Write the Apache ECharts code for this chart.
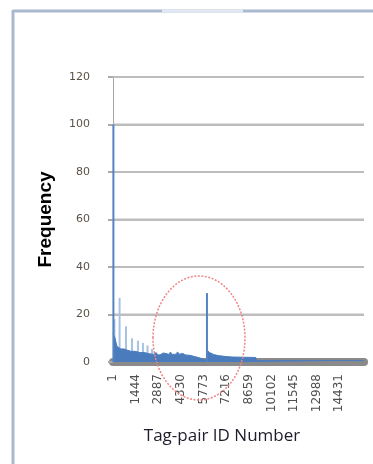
<!DOCTYPE html>
<html>
<head>
<meta charset="utf-8">
<script src="https://cdn.jsdelivr.net/npm/echarts@6/dist/echarts.min.js"></script>
<style>
  html, body { margin: 0; padding: 0; background: #fff; }
  #chart { width: 373px; height: 464px; }
</style>
</head>
<body>
<div id="chart"></div>
<script>
// dense low-frequency profile (dark fill)
const baseIds = [0, 130, 200, 260, 380, 500, 700, 900, 1150, 1400, 1700, 2000, 2300, 2600, 2750, 2850, 3000, 3200, 3300, 3600, 3650, 3800, 4050, 4100, 4250, 4450, 4600, 4900, 5200, 5500, 5750, 5850, 5950, 6000, 6150, 6400, 6700, 7200, 7600, 8400, 9100, 9150, 16000];
const baseFreq = [12, 10, 8, 6.5, 6, 5.5, 5.5, 5, 4.5, 4.5, 4, 4, 3.5, 3.2, 4, 3, 3, 3.8, 3, 3.2, 4.2, 3.2, 3.3, 4.2, 3.3, 3.6, 3, 2.8, 2.3, 1.8, 1.2, 0.6, 0.6, 5, 4, 3.2, 2.7, 2.3, 2.1, 2, 1.9, 0.6, 0.6];

// thin lighter peaks
const lightPeakIds = [90, 420, 830, 1210, 1590, 1910, 2200, 2490];
const lightPeakFreq = [18, 27, 15, 10, 9, 8, 7, 5.5];

// strong peaks
const darkPeakIds = [25, 5990];
const darkPeakFreq = [100, 29];

const xMin = 0;
const xMax = 16000;
const xTickStep = 1443;
const xLastLabel = 14430;
const yGridValues = [20, 40, 60, 80, 100, 120];

const chart = echarts.init(document.getElementById('chart'));

const zip = (a, b) => a.map((v, i) => [v, b[i]]);

// horizontal gridlines as plain series spanning the x range
const gridSeries = yGridValues.map(v => ({
  type: 'line',
  silent: true,
  symbol: 'none',
  lineStyle: { color: '#bdbdbd', width: 2 },
  data: [[xMin, v], [xMax, v]],
  z: 1,
}));

const option = {
  backgroundColor: '#fff',
  animation: false,
  grid: { left: 113, right: 9, top: 77, bottom: 102 },
  xAxis: {
    type: 'value',
    min: xMin,
    max: xMax,
    interval: xTickStep,
    offset: 4,
    name: 'Tag-pair ID Number',
    nameLocation: 'middle',
    nameGap: 62,
    nameTextStyle: {
      fontFamily: 'Open Sans',
      fontSize: 17,
      color: '#1d1d2b',
      padding: [0, 33, 0, 0],
    },
    axisLine: { show: true, lineStyle: { color: '#8a8a8a', width: 8 } },
    axisTick: { show: false },
    splitLine: { show: false },
    axisLabel: {
      rotate: 90,
      margin: 8,
      fontFamily: 'DejaVu Sans',
      fontSize: 12,
      color: '#4f4f4f',
      formatter: v => (v > xLastLabel ? '' : String(v + 1)),
    },
  },
  yAxis: {
    type: 'value',
    min: 0,
    max: 120,
    interval: 20,
    name: 'Frequency',
    nameLocation: 'middle',
    nameGap: 58,
    nameTextStyle: {
      fontFamily: 'Liberation Sans',
      fontSize: 19,
      fontWeight: 'bold',
      color: '#000',
    },
    axisLine: { show: true, lineStyle: { color: '#a6a6a6', width: 1 } },
    axisTick: { show: true, length: 5, lineStyle: { color: '#aaaaaa', width: 2 } },
    splitLine: { show: true, lineStyle: { color: '#bdbdbd', width: 2 } },
    axisLabel: {
      margin: 23,
      fontFamily: 'DejaVu Sans',
      fontSize: 11,
      color: '#5a5146',
    },
  },
  series: [
    ...gridSeries,
    {
      name: 'peaks-light',
      type: 'bar',
      barWidth: 2,
      itemStyle: { color: '#a9c2e4' },
      data: zip(lightPeakIds, lightPeakFreq),
      z: 2,
    },
    {
      name: 'base',
      type: 'line',
      showSymbol: false,
      symbol: 'none',
      lineStyle: { color: '#4a7cbd', width: 1 },
      areaStyle: { color: '#4a7cbd', opacity: 1 },
      data: zip(baseIds, baseFreq),
      z: 3,
    },
    {
      name: 'peaks-dark',
      type: 'bar',
      barWidth: 2,
      barGap: '-100%',
      itemStyle: { color: '#5583c2' },
      data: zip(darkPeakIds, darkPeakFreq),
      z: 4,
    },
  ],
  graphic: [
    {
      type: 'line',
      shape: { x1: 13, y1: 11, x2: 373, y2: 11 },
      style: { stroke: '#a9b9d0', lineWidth: 3 },
    },
    {
      type: 'line',
      shape: { x1: 162, y1: 11, x2: 243, y2: 11 },
      style: { stroke: '#e3e9f2', lineWidth: 3 },
    },
    {
      type: 'line',
      shape: { x1: 13, y1: 10, x2: 13, y2: 464 },
      style: { stroke: '#a9b9d0', lineWidth: 3 },
    },
    {
      type: 'ellipse',
      shape: { cx: 199, cy: 338, rx: 46, ry: 62 },
      style: { fill: 'none', stroke: '#f08585', lineWidth: 1.5, lineDash: [2, 1.5] },
      z: 100,
    },
  ],
};

chart.setOption(option);
</script>
</body>
</html>
